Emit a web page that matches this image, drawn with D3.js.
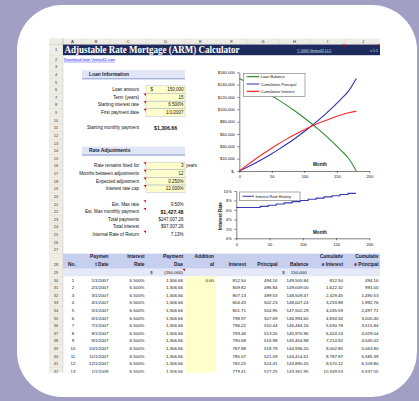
<!DOCTYPE html>
<html>
<head>
<meta charset="utf-8">
<script src="https://cdn.jsdelivr.net/npm/d3@7"></script>
<style>
  body { margin: 0; background: #a19fc4; }
  svg { display: block; font-family: "Liberation Sans", Arial, sans-serif; }
</style>
</head>
<body>
<div id="container"></div>
<script>
// ---------- data ----------
const colLetters = ["A", "B", "C", "D", "E", "F", "G", "H", "I", "J"];
const colEdges = [63, 82, 110, 146, 185, 216, 247, 279, 310, 345, 381];

const loanLabels = ["Loan amount", "Term (years)", "Starting interest rate", "First payment date"];
const loanValues = ["150,000", "15", "6.500%", "1/1/2007"];
const adjLabels = ["Rate remains fixed for", "Months between adjustments", "Expected adjustment", "Interest rate cap"];
const adjValues = ["3", "12", "0.250%", "12.000%"];
const summaryLabels = ["Est. Max rate", "Est. Max monthly payment", "Total payments", "Total interest", "Internal Rate of Return"];
const summaryValues = ["9.50%", "$1,427.48", "$247,007.26", "$97,007.26", "7.13%"];

// chart 1 (every 12 months)
const chartMonths = [0, 12, 24, 36, 48, 60, 72, 84, 96, 108, 120, 132, 144, 156, 168, 180];
const loanBalance = [150000, 143890, 137370, 130410, 123100, 115350, 107150, 98450, 89250, 79500, 69150, 58150, 46450, 33950, 20600, 0];
const cumPrincipal = [0, 6110, 12630, 19590, 26900, 34650, 42850, 51550, 60750, 70500, 80850, 91850, 103550, 116050, 129400, 150000];
const cumInterest = [0, 9570, 18730, 27450, 35800, 43800, 51300, 58300, 64900, 71000, 76500, 81500, 86300, 90700, 94300, 97000];

// chart 2
const rateMonths = [0, 36, 48, 60, 72, 84, 96, 108, 120, 132, 144, 156, 168, 180];
const rateHistory = [6.5, 6.75, 7.0, 7.25, 7.5, 7.75, 8.0, 8.25, 8.5, 8.75, 9.0, 9.25, 9.5, 9.5];

// schedule table
const payNo = [1, 2, 3, 4, 5, 6, 7, 8, 9, 10, 11, 12, 13];
const payDate = ["1/1/2007", "2/1/2007", "3/1/2007", "4/1/2007", "5/1/2007", "6/1/2007", "7/1/2007", "8/1/2007", "9/1/2007", "10/1/2007", "11/1/2007", "12/1/2007", "1/1/2008"];
const payRate = "6.500%";
const payDue = "1,306.66";
const interestCol = ["812.50", "809.82", "807.13", "804.43", "801.71", "798.97", "796.22", "793.46", "790.68", "787.88", "785.07", "782.25", "779.41"];
const principalCol = ["494.16", "496.84", "499.53", "502.23", "504.95", "507.69", "510.44", "513.20", "515.98", "518.78", "521.59", "524.41", "527.25"];
const balanceCol = ["149,505.84", "149,009.00", "148,509.47", "148,007.24", "147,502.29", "146,994.60", "146,484.16", "145,970.96", "145,454.98", "144,936.20", "144,414.61", "143,890.20", "143,362.95"];
const cumIntCol = ["812.50", "1,622.32", "2,429.45", "3,233.88", "4,035.59", "4,834.56", "5,630.78", "6,424.24", "7,214.92", "8,002.80", "8,787.87", "9,570.12", "10,349.53"];
const cumPrinCol = ["494.16", "991.00", "1,490.53", "1,992.76", "2,497.71", "3,005.40", "3,515.84", "4,029.04", "4,545.02", "5,063.80", "5,585.39", "6,109.80", "6,637.05"];

const headLine1 = ["", "Paymen", "Interest", "Payment", "Addition", "", "", "", "Cumulativ", "Cumulativ"];
const headLine2 = ["No.", "t Date", "Rate", "Due", "al", "Interest", "Principal", "Balance", "e Interest", "e Principal"];

// ---------- canvas ----------
const svg = d3.select("#container").append("svg").attr("width", 419).attr("height", 401);

svg.append("rect").attr("width", 419).attr("height", 401).attr("fill", "#a19fc4");
svg.append("rect").attr("x", 17).attr("y", 5).attr("width", 400).attr("height", 392)
  .attr("rx", 45).attr("fill", "#fff");

svg.append("clipPath").attr("id", "sheetClip")
  .append("rect").attr("x", 49).attr("y", 38.3).attr("width", 331).attr("height", 334.4);

const sheet = svg.append("g").attr("clip-path", "url(#sheetClip)");

// row geometry
const rowTop = n => {
  if (n === 1) return 44.3;
  if (n === 2) return 55.5;
  if (n <= 28) return 63 + (n - 3) * 7.625;
  return 268.7 + (n - 29) * 7.6;
};
const rowMid = n => (rowTop(n) + rowTop(n + 1)) / 2;

const txt = (g, x, y, s, o = {}) => g.append("text")
  .attr("x", x).attr("y", y).text(s)
  .attr("font-size", o.size || 4.5)
  .attr("font-weight", o.bold ? "bold" : null)
  .attr("text-anchor", o.anchor || "start")
  .attr("dominant-baseline", "central")
  .attr("fill", o.fill || "#111")
  .attr("text-decoration", o.under ? "underline" : null);

const redMark = (x, y) => sheet.append("path")
  .attr("d", `M${x - 2.6},${y}L${x},${y}L${x},${y + 2.6}Z`).attr("fill", "#e00000");

// ---------- headers ----------
sheet.append("rect").attr("x", 49).attr("y", 38.3).attr("width", 331).attr("height", 6).attr("fill", "#eeede5");
sheet.append("rect").attr("x", 49).attr("y", 38.3).attr("width", 14).attr("height", 334.4).attr("fill", "#eeede5");
colLetters.forEach((c, i) => {
  sheet.append("line").attr("x1", colEdges[i]).attr("x2", colEdges[i]).attr("y1", 38.3).attr("y2", 44.3)
    .attr("stroke", "#c9c7bb").attr("stroke-width", 0.4);
  txt(sheet, (colEdges[i] + colEdges[i + 1]) / 2, 41.4, c, { size: 4.3, anchor: "middle", fill: "#333" });
});
sheet.append("line").attr("x1", 49).attr("x2", 380).attr("y1", 44.3).attr("y2", 44.3).attr("stroke", "#b9b7ab").attr("stroke-width", 0.4);
d3.range(1, 43).forEach(n => {
  sheet.append("line").attr("x1", 49).attr("x2", 63).attr("y1", rowTop(n + 1)).attr("y2", rowTop(n + 1))
    .attr("stroke", "#d6d4c8").attr("stroke-width", 0.3);
  txt(sheet, 56, n === 28 ? rowTop(28) + 11 : rowMid(n), String(n), { size: 4, anchor: "middle", fill: "#333" });
});
sheet.append("line").attr("x1", 63).attr("x2", 63).attr("y1", 38.3).attr("y2", 373).attr("stroke", "#b9b7ab").attr("stroke-width", 0.4);

// title bar
sheet.append("rect").attr("x", 63).attr("y", 44.6).attr("width", 318).attr("height", 10.6).attr("fill", "#1d2b5c");
sheet.append("text").attr("x", 64.5).attr("y", 53).text("Adjustable Rate Mortgage (ARM) Calculator")
  .attr("font-family", "'Liberation Serif', serif").attr("font-weight", "bold").attr("font-size", 9.6)
  .attr("fill", "#fff").attr("textLength", 175).attr("lengthAdjust", "spacingAndGlyphs");
txt(sheet, 297, 50.5, "© 2005 Vertex42 LLC", { size: 3.6, fill: "#dfe3f2", under: true });
txt(sheet, 378, 50.5, "v 1.1", { size: 3.6, anchor: "end", fill: "#dfe3f2" });
redMark(345, 44.6);
redMark(380, 44.6);
txt(sheet, 64, 59.3, "Download from Vertex42.com", { size: 3.9, fill: "#1a1aff", under: true });

// ---------- input sections ----------
const sectionHead = (row, label) => {
  sheet.append("rect").attr("x", 82).attr("y", rowTop(row) - 0.4).attr("width", 103).attr("height", 8.6).attr("fill", "#e0e6f6");
  sheet.append("line").attr("x1", 82).attr("x2", 185).attr("y1", rowTop(row) + 8.2).attr("y2", rowTop(row) + 8.2)
    .attr("stroke", "#8799cc").attr("stroke-width", 1);
  txt(sheet, 89, rowMid(row), label, { size: 4.9, bold: true, fill: "#1a1a33" });
};
const inputBlock = (firstRow, labels, values, marks) => {
  sheet.append("rect").attr("x", 146).attr("y", rowTop(firstRow)).attr("width", 39)
    .attr("height", rowTop(firstRow + labels.length) - rowTop(firstRow)).attr("fill", "#ffffcc");
  labels.forEach((l, i) => {
    const r = firstRow + i;
    sheet.append("rect").attr("x", 146).attr("y", rowTop(r)).attr("width", 39).attr("height", rowTop(r + 1) - rowTop(r))
      .attr("fill", "none").attr("stroke", "#a9aec8").attr("stroke-width", 0.4);
    txt(sheet, 139, rowMid(r), l, { size: 4.6, anchor: "end" });
    txt(sheet, 183.5, rowMid(r), values[i], { size: 4.5, anchor: "end" });
    if (marks[i]) redMark(146, rowTop(r));
  });
};

sectionHead(4, "Loan Information");
inputBlock(6, loanLabels, loanValues, [false, true, true, true]);
txt(sheet, 150.5, rowMid(6), "$", { size: 4.5 });
txt(sheet, 139, rowMid(11), "Starting monthly payment", { size: 4.6, anchor: "end" });
txt(sheet, 154, rowMid(11), "$1,306.66", { size: 5.2, bold: true });

sectionHead(14, "Rate Adjustments");
inputBlock(16, adjLabels, adjValues, [true, true, true, true]);
txt(sheet, 186, rowMid(16), "years", { size: 4.5 });

summaryLabels.forEach((l, i) => {
  const r = 21 + i;
  txt(sheet, 139, rowMid(r), l, { size: 4.6, anchor: "end" });
  txt(sheet, 183.5, rowMid(r), summaryValues[i], { size: i === 1 ? 5.2 : 4.5, bold: i === 1, anchor: "end" });
  if (i === 0 || i === 1 || i === 4) redMark(146, rowTop(r));
});

// ---------- chart 1 ----------
const x1 = d3.scaleLinear().domain([0, 200]).range([239.3, 369.3]);
const y1 = d3.scaleLinear().domain([0, 160000]).range([171, 72.3]);
const c1 = sheet.append("g");

const styleAxis = g => {
  g.select(".domain").attr("stroke", "#000").attr("stroke-width", 0.5);
  g.selectAll(".tick line").attr("stroke", "#000").attr("stroke-width", 0.5);
  g.selectAll(".tick text").attr("font-size", 4.1).attr("fill", "#111").attr("font-family", "'Liberation Sans', Arial, sans-serif");
};

c1.append("g").attr("transform", "translate(0,171)")
  .call(d3.axisBottom(x1).tickValues([0, 50, 100, 150, 200]).tickSize(2).tickPadding(2.5).tickSizeOuter(0))
  .call(styleAxis);
c1.append("g").attr("transform", "translate(239.3,0)")
  .call(d3.axisLeft(y1).tickValues(d3.range(0, 160001, 20000)).tickSize(2).tickPadding(2.5).tickSizeOuter(0)
    .tickFormat(d => d === 0 ? "$-    " : "$" + d3.format(",")(d)))
  .call(styleAxis);

const line1 = vals => d3.line().x((d, i) => x1(chartMonths[i])).y(d => y1(d)).curve(d3.curveMonotoneX)(vals);
const series1 = [
  { name: "Loan Balance", vals: loanBalance, color: "#2f8f2f" },
  { name: "Cumulative Principal", vals: cumPrincipal, color: "#3030b0" },
  { name: "Cumulative Interest", vals: cumInterest, color: "#ff2a2a" }
];
series1.forEach(s => c1.append("path").attr("d", line1(s.vals)).attr("fill", "none")
  .attr("stroke", s.color).attr("stroke-width", 1.1));

txt(c1, 313, 164, "Month", { size: 4.6, bold: true });

const leg1 = c1.append("g");
leg1.append("rect").attr("x", 243.5).attr("y", 73.3).attr("width", 61.5).attr("height", 23.4)
  .attr("fill", "#fff").attr("stroke", "#555").attr("stroke-width", 0.5);
series1.forEach((s, i) => {
  const yy = 76.6 + i * 7.4;
  leg1.append("line").attr("x1", 246.7).attr("x2", 259.3).attr("y1", yy).attr("y2", yy)
    .attr("stroke", s.color).attr("stroke-width", 1.1);
  txt(leg1, 260.8, yy, s.name, { size: 3.9 });
});

// ---------- chart 2 ----------
const x2 = d3.scaleLinear().domain([0, 200]).range([236.3, 369.3]);
const y2 = d3.scaleLinear().domain([0, 10]).range([238.3, 191]);
const c2 = sheet.append("g");

c2.append("g").attr("transform", "translate(0,238.3)")
  .call(d3.axisBottom(x2).tickValues([0, 50, 100, 150, 200]).tickSize(2).tickPadding(2.5).tickSizeOuter(0))
  .call(styleAxis);
c2.append("g").attr("transform", "translate(236.3,0)")
  .call(d3.axisLeft(y2).tickValues(d3.range(0, 11, 2)).tickSize(2).tickPadding(2.5).tickSizeOuter(0)
    .tickFormat(d => d + "%"))
  .call(styleAxis);

c2.append("path")
  .attr("d", d3.line().x((d, i) => x2(rateMonths[i])).y(d => y2(d)).curve(d3.curveStepAfter)(rateHistory))
  .attr("fill", "none").attr("stroke", "#3a3ab0").attr("stroke-width", 1.1);

txt(c2, 313, 232.3, "Month", { size: 4.6, bold: true });
c2.append("text").attr("transform", "translate(220.5,216) rotate(-90)").attr("text-anchor", "middle")
  .attr("dominant-baseline", "central").attr("font-size", 4.6).attr("font-weight", "bold")
  .attr("fill", "#111").text("Interest Rate");

c2.append("rect").attr("x", 239.5).attr("y", 192).attr("width", 60.5).attr("height", 8.7)
  .attr("fill", "#fff").attr("stroke", "#555").attr("stroke-width", 0.5);
c2.append("line").attr("x1", 242.5).attr("x2", 254).attr("y1", 196.3).attr("y2", 196.3)
  .attr("stroke", "#3a3ab0").attr("stroke-width", 1.1);
txt(c2, 255.5, 196.3, "Interest Rate History", { size: 3.9 });

// ---------- schedule table ----------
sheet.append("rect").attr("x", 63).attr("y", rowTop(28)).attr("width", 318).attr("height", rowTop(29) - rowTop(28)).attr("fill", "#c6cfee");
sheet.append("rect").attr("x", 63).attr("y", rowTop(29)).attr("width", 318).attr("height", rowTop(30) - rowTop(29)).attr("fill", "#e5e9f7");
sheet.append("rect").attr("x", 185).attr("y", rowTop(30)).attr("width", 31).attr("height", 110).attr("fill", "#ffffcc");

const colRight = [null, 108.5, 144.5, 183, 214, 246, 277.5, 308.5, 343, 378.5];
headLine1.forEach((h, i) => {
  if (h) txt(sheet, colRight[i], 256.4, h, { size: 4.8, bold: true, anchor: "end", fill: "#1a1a33" });
});
headLine2.forEach((h, i) => {
  if (i === 0) txt(sheet, 68, 264.2, h, { size: 4.8, bold: true, fill: "#1a1a33" });
  else txt(sheet, colRight[i], 264.2, h, { size: 4.8, bold: true, anchor: "end", fill: "#1a1a33" });
});

txt(sheet, 150.3, rowMid(29), "$", { size: 4.4 });
txt(sheet, 183, rowMid(29), "(150,000)", { size: 4.4, anchor: "end" });
redMark(185, rowTop(29));
txt(sheet, 282.3, rowMid(29), "$", { size: 4.4 });
txt(sheet, 306.7, rowMid(29), "150,000", { size: 4.4, anchor: "end" });

payNo.forEach((n, i) => {
  const r = 30 + i, yy = rowMid(r);
  txt(sheet, 73, yy, String(n), { size: 4.4, anchor: "middle" });
  txt(sheet, colRight[1], yy, payDate[i], { size: 4.4, anchor: "end" });
  txt(sheet, colRight[2], yy, payRate, { size: 4.4, anchor: "end" });
  txt(sheet, colRight[3], yy, payDue, { size: 4.4, anchor: "end" });
  if (i === 0) txt(sheet, colRight[4], yy, "0.00", { size: 4.4, anchor: "end" });
  txt(sheet, colRight[5], yy, interestCol[i], { size: 4.4, anchor: "end" });
  txt(sheet, colRight[6], yy, principalCol[i], { size: 4.4, anchor: "end" });
  txt(sheet, colRight[7], yy, balanceCol[i], { size: 4.4, anchor: "end" });
  txt(sheet, colRight[8], yy, cumIntCol[i], { size: 4.4, anchor: "end" });
  txt(sheet, colRight[9], yy, cumPrinCol[i], { size: 4.4, anchor: "end" });
});
</script>
</body>
</html>
